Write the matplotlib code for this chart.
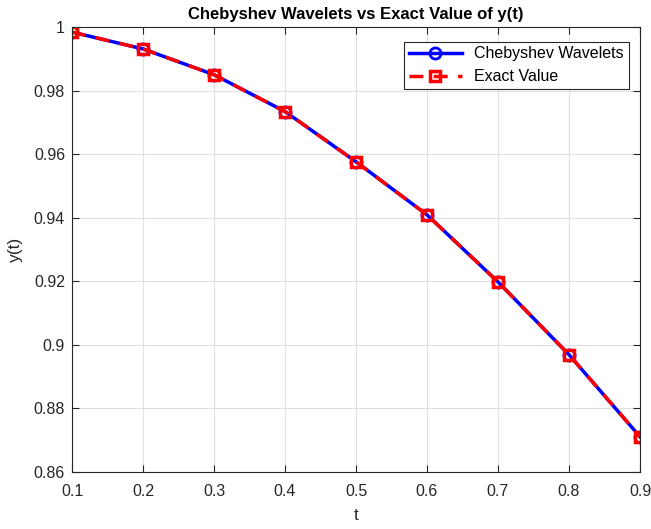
import matplotlib.pyplot as plt

t = [0.1, 0.2, 0.3, 0.4, 0.5, 0.6, 0.7, 0.8, 0.9]
y_cheb = [0.9984, 0.9931, 0.9850, 0.9734, 0.9576, 0.9409, 0.9198, 0.8969, 0.8711]
y_exact = [0.9984, 0.9931, 0.9850, 0.9734, 0.9576, 0.9409, 0.9198, 0.8969, 0.8711]

plt.rcParams['font.family'] = ['Liberation Sans', 'DejaVu Sans']

fig = plt.figure(figsize=(6.51, 5.29), dpi=100)
ax = fig.add_axes([72/651, 1 - 472/529, 568/651, 445/529])

ax.plot(t, y_cheb, '-o', color='blue', linewidth=2.5, markersize=8,
        markerfacecolor='none', markeredgewidth=2, label='Chebyshev Wavelets')
ax.plot(t, y_exact, '--s', color='red', linewidth=2.5, markersize=7,
        markerfacecolor='none', markeredgewidth=2.5, dashes=(4, 3), label='Exact Value')

ax.set_xlim(0.1, 0.9)
ax.set_ylim(0.86, 1.0)
ax.set_xticks([0.1, 0.2, 0.3, 0.4, 0.5, 0.6, 0.7, 0.8, 0.9])
ax.set_xticklabels(['0.1', '0.2', '0.3', '0.4', '0.5', '0.6', '0.7', '0.8', '0.9'])
ax.set_yticks([0.86, 0.88, 0.9, 0.92, 0.94, 0.96, 0.98, 1.0])
ax.set_yticklabels(['0.86', '0.88', '0.9', '0.92', '0.94', '0.96', '0.98', '1'])
ax.grid(True, color='#e0e0e0', linewidth=0.8)
ax.set_axisbelow(True)
ax.tick_params(direction='in', top=True, right=True, labelsize=11.5, length=5,
               colors='#262626')
ax.tick_params(axis='x', pad=9)
ax.tick_params(axis='y', pad=5)
for s in ax.spines.values():
    s.set_color('#262626')
    s.set_linewidth(0.8)

ax.set_xlabel('t', fontsize=12.5, color='#262626', labelpad=6)
ax.set_ylabel('y(t)', fontsize=12.5, color='#262626', labelpad=8)
ax.set_title('Chebyshev Wavelets vs Exact Value of y(t)', fontsize=12,
             fontweight='bold', pad=6)

leg = ax.legend(loc='upper right', fontsize=11.5, fancybox=False, framealpha=1,
                edgecolor='#262626', handlelength=3.3, borderpad=0.3,
                bbox_to_anchor=(0.9945, 0.985))
leg.get_frame().set_linewidth(0.8)

fig.savefig('out.png', dpi=100)
